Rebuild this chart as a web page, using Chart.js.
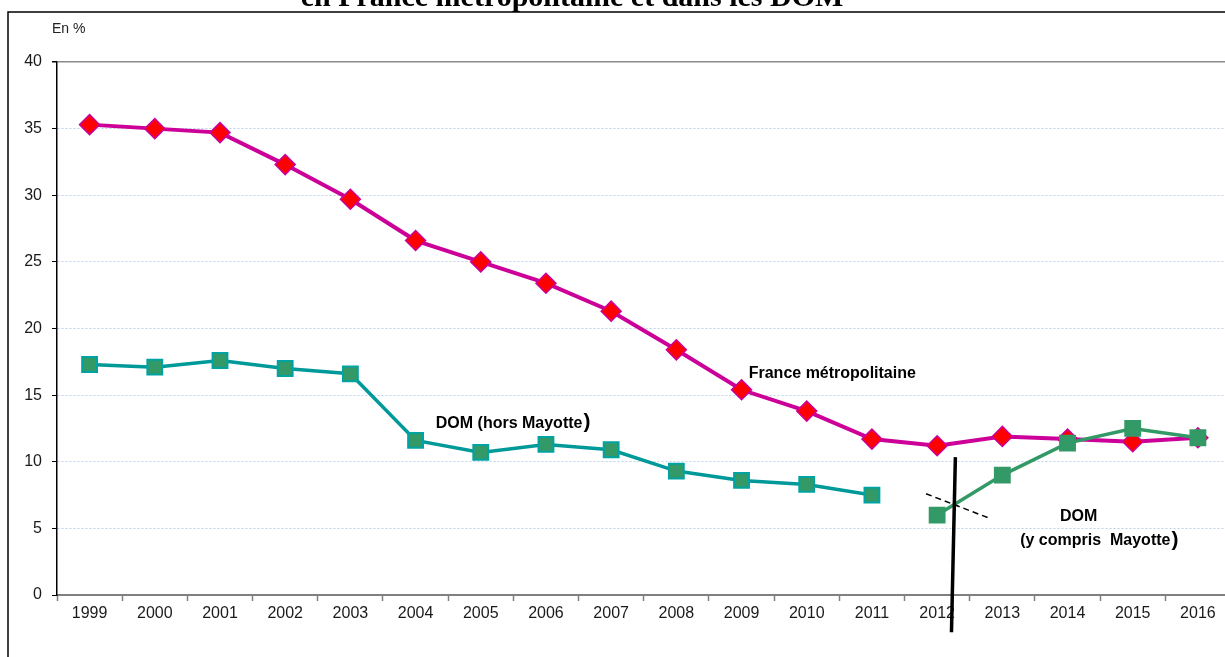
<!DOCTYPE html>
<html>
<head>
<meta charset="utf-8">
<script src="https://cdn.jsdelivr.net/npm/chart.js@4/dist/chart.umd.min.js"></script>
<style>
  html, body { margin: 0; padding: 0; background: #fff; overflow: hidden; }
  #wrap { position: relative; width: 1225px; height: 657px; overflow: hidden; }
</style>
</head>
<body>
<!-- canvas is a bit wider than the window: the plot runs off the right edge like the source -->
<div id="wrap"><canvas id="tauxChart" width="1243" height="657"></canvas></div>
<script>
const years = ['1999', '2000', '2001', '2002', '2003', '2004', '2005', '2006', '2007',
  '2008', '2009', '2010', '2011', '2012', '2013', '2014', '2015', '2016'];
const franceMetro = [35.3, 35.0, 34.7, 32.3, 29.7, 26.6, 25.0, 23.4, 21.3,
  18.4, 15.4, 13.8, 11.7, 11.2, 11.9, 11.7, 11.5, 11.8];
const domHorsMayotte = [17.3, 17.1, 17.6, 17.0, 16.6, 11.6, 10.7, 11.3, 10.9,
  9.3, 8.6, 8.3, 7.5, null, null, null, null, null];
const domAvecMayotte = [null, null, null, null, null, null, null, null, null,
  null, null, null, null, 6.0, 9.0, 11.4, 12.5, 11.8];
const yTicks = [0, 5, 10, 15, 20, 25, 30, 35, 40];

const title = 'en France métropolitaine et dans les DOM';
const unitLabel = 'En %';

// annotation anchors, in (category index, value) units
const seriesLabels = [
  { text: 'France métropolitaine', x: 10.11, y: 16.6, align: 'left' },
  { text: 'DOM (hors Mayotte', close: ')', x: 5.31, y: 12.9, align: 'left' },
  { text: 'DOM', x: 15.17, y: 5.85, align: 'center' },
  { text: '(y compris  Mayotte', close: ')', x: 15.48, y: 4.05, align: 'center' }
];
const breakLine = { x1: 13.28, y1: 10.35, x2: 13.22, y2: -2.8 };
const breakDash = { x1: 12.83, y1: 7.6, x2: 13.78, y2: 5.8 };

const labelFont = 'bold 16px "Liberation Sans", Arial, sans-serif';
const parenFont = 'bold 21px "Liberation Sans", Arial, sans-serif';
const tickFont = { family: '"Liberation Sans", Arial, sans-serif', size: 16 };

const decorPlugin = {
  id: 'decor',
  beforeDraw(chart) {
    const ctx = chart.ctx;
    ctx.save();
    ctx.fillStyle = '#fff';
    ctx.fillRect(0, 0, chart.width, chart.height);
    // outer frame
    ctx.strokeStyle = '#000';
    ctx.lineWidth = 1.5;
    ctx.beginPath();
    ctx.moveTo(8, chart.height);
    ctx.lineTo(8, 12);
    ctx.lineTo(chart.width, 12);
    ctx.stroke();
    // title, cut at the top
    ctx.fillStyle = '#000';
    ctx.font = 'bold 30px "Liberation Serif", "Times New Roman", serif';
    ctx.textAlign = 'center';
    ctx.textBaseline = 'alphabetic';
    ctx.fillText(title, 572, 6);
    ctx.font = '14px "Liberation Sans", Arial, sans-serif';
    ctx.textAlign = 'left';
    ctx.fillStyle = '#222';
    ctx.fillText(unitLabel, 52, 33);
    ctx.restore();
  },
  afterDraw(chart) {
    const ctx = chart.ctx;
    const xs = chart.scales.x, ys = chart.scales.y;
    ctx.save();
    // series break markers
    ctx.strokeStyle = '#000';
    ctx.lineWidth = 3.5;
    ctx.beginPath();
    ctx.moveTo(xs.getPixelForValue(breakLine.x1), ys.getPixelForValue(breakLine.y1));
    ctx.lineTo(xs.getPixelForValue(breakLine.x2), ys.getPixelForValue(breakLine.y2));
    ctx.stroke();
    ctx.lineWidth = 1.5;
    ctx.setLineDash([6, 4]);
    ctx.beginPath();
    ctx.moveTo(xs.getPixelForValue(breakDash.x1), ys.getPixelForValue(breakDash.y1));
    ctx.lineTo(xs.getPixelForValue(breakDash.x2), ys.getPixelForValue(breakDash.y2));
    ctx.stroke();
    ctx.setLineDash([]);
    // series labels
    ctx.fillStyle = '#000';
    ctx.textBaseline = 'middle';
    ctx.textAlign = 'left';
    seriesLabels.forEach(l => {
      const px = xs.getPixelForValue(l.x);
      const py = ys.getPixelForValue(l.y);
      ctx.font = labelFont;
      const w1 = ctx.measureText(l.text).width;
      let w2 = 0;
      if (l.close) {
        ctx.font = parenFont;
        w2 = ctx.measureText(l.close).width;
      }
      const start = l.align === 'center' ? px - (w1 + w2) / 2 : px;
      ctx.font = labelFont;
      ctx.fillText(l.text, start, py);
      if (l.close) {
        ctx.font = parenFont;
        ctx.fillText(l.close, start + w1 + 1, py - 1);
      }
    });
    ctx.restore();
  }
};

const ctx = document.getElementById('tauxChart');
new Chart(ctx, {
  type: 'line',
  data: {
    labels: years,
    datasets: [
      {
        label: 'France métropolitaine',
        data: franceMetro,
        borderColor: '#CC0099',
        borderWidth: 4,
        pointStyle: 'rectRot',
        pointRadius: 10,
        pointBackgroundColor: '#FF0000',
        pointBorderColor: '#CC0099',
        pointBorderWidth: 1.5,
        tension: 0,
        order: 2
      },
      {
        label: 'DOM (hors Mayotte)',
        data: domHorsMayotte,
        borderColor: '#009999',
        borderWidth: 3.5,
        pointStyle: 'rect',
        pointRadius: 10.5,
        pointBackgroundColor: '#339966',
        pointBorderColor: '#00A3A3',
        pointBorderWidth: 2,
        tension: 0,
        order: 1
      },
      {
        label: 'DOM (y compris Mayotte)',
        data: domAvecMayotte,
        borderColor: '#339966',
        borderWidth: 3.5,
        pointStyle: 'rect',
        pointRadius: 10.5,
        pointBackgroundColor: '#339966',
        pointBorderColor: '#339966',
        pointBorderWidth: 2,
        tension: 0,
        order: 1
      }
    ]
  },
  options: {
    responsive: false,
    animation: false,
    events: [],
    layout: { padding: { left: 0, top: 62, right: 0, bottom: 0 } },
    plugins: {
      legend: { display: false },
      tooltip: { enabled: false },
      title: { display: false }
    },
    scales: {
      x: {
        offset: true,
        afterFit(scale) { scale.height = 62; },
        grid: {
          offset: true,
          drawOnChartArea: false,
          drawTicks: true,
          tickLength: 6,
          tickColor: '#808080',
          tickWidth: 1.5
        },
        border: { color: '#808080', width: 2 },
        ticks: {
          color: '#1a1a1a',
          padding: 3,
          maxRotation: 0,
          autoSkip: false,
          font: tickFont
        }
      },
      y: {
        min: 0,
        max: 40,
        afterFit(scale) { scale.width = 57; },
        afterBuildTicks(scale) { scale.ticks = yTicks.map(v => ({ value: v })); },
        grid: {
          color: c => (c.tick && c.tick.value === 40) ? '#8c8c8c' : '#bcd0ea',
          lineWidth: c => (c.tick && c.tick.value === 40) ? 1.5 : 1,
          tickColor: '#000',
          tickLength: 5,
          drawTicks: true
        },
        border: {
          color: '#000',
          width: 1.5,
          dash: c => (c.tick && c.tick.value === 40) ? [] : [2, 2]
        },
        ticks: {
          color: '#1a1a1a',
          padding: 10,
          font: tickFont
        }
      }
    }
  },
  plugins: [decorPlugin]
});
</script>
</body>
</html>
